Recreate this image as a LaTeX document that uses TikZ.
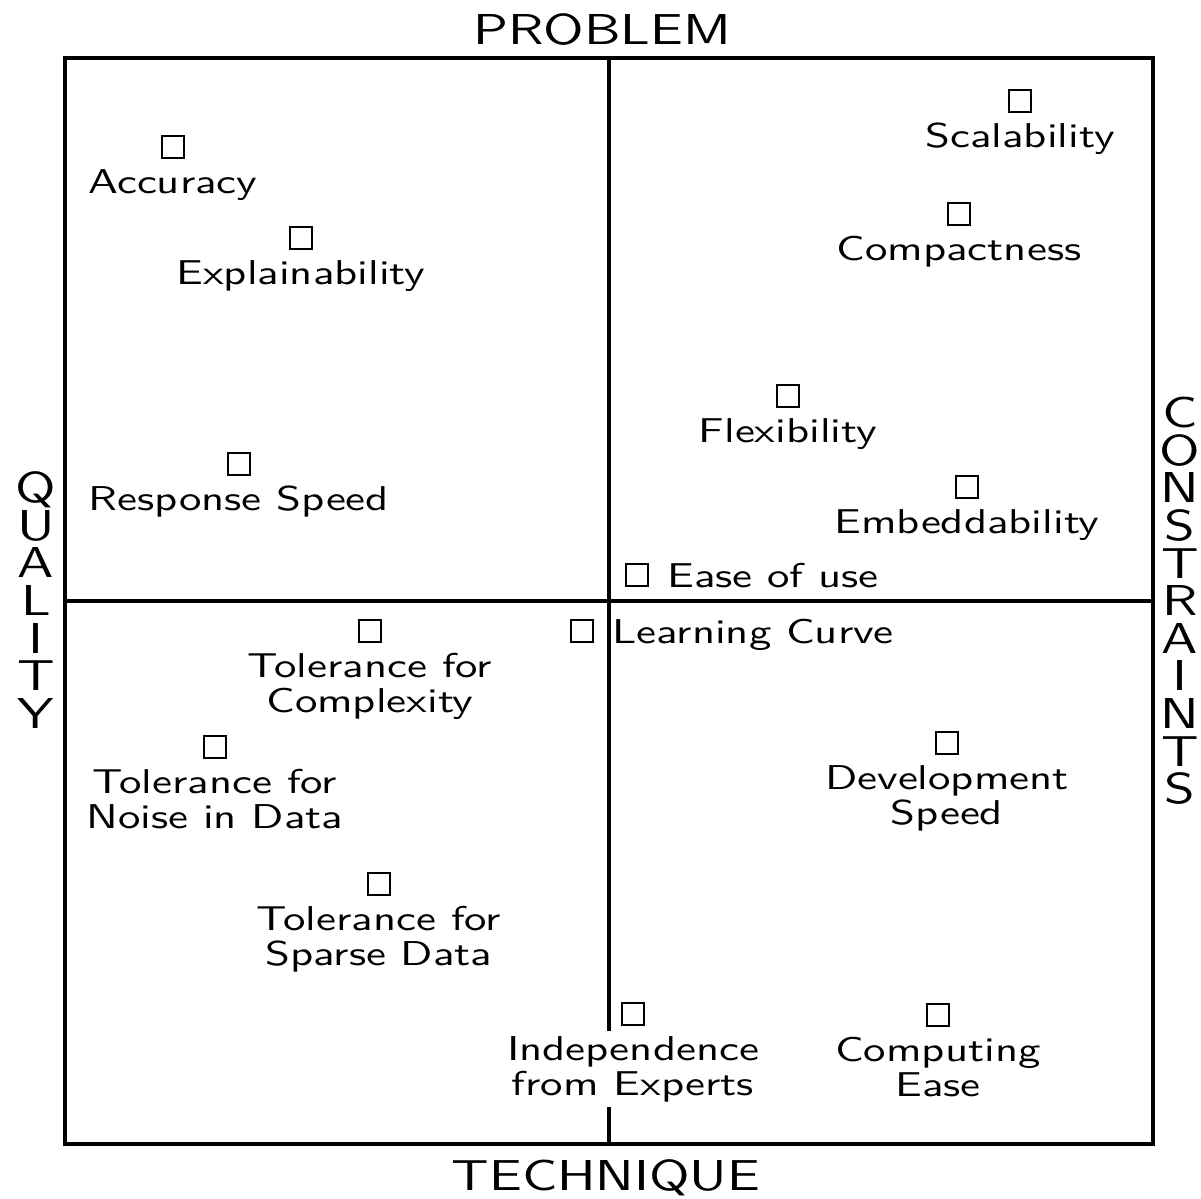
\documentclass[tikz,border=0pt]{standalone}
\usepackage{tikz}
\usetikzlibrary{positioning}

\begin{document}
\begin{tikzpicture}[
  node distance=1.2pt and 3pt,
  every node/.style={font=\sffamily\fontsize{9.8}{10}\selectfont, align=center},
  frame/.style={line width=0.95pt},
  itembox/.style={draw, line width=0.55pt, minimum size=0.22cm, inner sep=0pt},
  item/.style={fill=white, inner sep=1.5pt, xscale=1.3},
  sideitem/.style={item, fill=none, text depth=0pt},
  axis/.style={font=\sffamily\fontsize{12.3}{10.7}\selectfont, xscale=1.3, inner sep=0pt}
]

\useasboundingbox (-6.09,-5.98) rectangle (5.92,6.01);

\draw[frame] (-5.44,-5.43) rectangle (5.44,5.43);
\draw[frame] (0,5.43) -- (0,-5.43);
\draw[frame] (-5.44,0) -- (5.44,0);

\node[axis] (prob) at (-0.07,5.71) {PROBLEM};
\node[axis, text depth=0pt] (tech) at (-0.03,-5.74) {TECHNIQUE};
\node[axis] (qual) at (-5.73,0.01) {Q\\U\\A\\L\\I\\T\\Y};
\node[axis] (cons) at (5.71,0) {C\\O\\N\\S\\T\\R\\A\\I\\N\\T\\S};

\node[itembox] (acc)  at (-4.36,4.54) {};
\node[itembox] (expl) at (-3.08,3.63) {};
\node[itembox] (resp) at (-3.70,1.37) {};
\node[itembox] (scal) at (4.11,5.00) {};
\node[itembox] (comp) at (3.50,3.87) {};
\node[itembox] (flex) at (1.79,2.05) {};
\node[itembox] (emb)  at (3.58,1.14) {};
\node[itembox] (ease) at (0.28,0.26) {};
\node[itembox] (lrn)  at (-0.27,-0.30) {};
\node[itembox] (cplx) at (-2.39,-0.30) {};
\node[itembox] (noise) at (-3.94,-1.46) {};
\node[itembox] (sparse) at (-2.30,-2.83) {};
\node[itembox] (dev)  at (3.38,-1.42) {};
\node[itembox] (indep) at (0.24,-4.13) {};
\node[itembox] (cmpt) at (3.29,-4.14) {};

\node[item, below=of acc]  (acct)  {Accuracy};
\node[item, below=of expl] (explt) {Explainability};
\node[item, below=of resp] (respt) {Response Speed};
\node[item, below=of scal] (scalt) {Scalability};
\node[item, below=of comp] (compt) {Compactness};
\node[item, below=of flex] (flext) {Flexibility};
\node[item, below=of emb]  (embt)  {Embeddability};
\node[sideitem, right=of ease] (easet) {Ease of use};
\node[sideitem, right=of lrn]  (lrnt)  {Learning Curve};
\node[item, below=of cplx] (cplxt) {Tolerance for\\Complexity};
\node[item, below=of noise] (noiset) {Tolerance for\\Noise in Data};
\node[item, below=of sparse] (sparset) {Tolerance for\\Sparse Data};
\node[item, below=of dev]  (devt)  {Development\\Speed};
\node[item, below=of indep] (indept) {Independence\\from Experts};
\node[item, below=of cmpt] (cmptt) {Computing\\Ease};

\end{tikzpicture}
\end{document}
